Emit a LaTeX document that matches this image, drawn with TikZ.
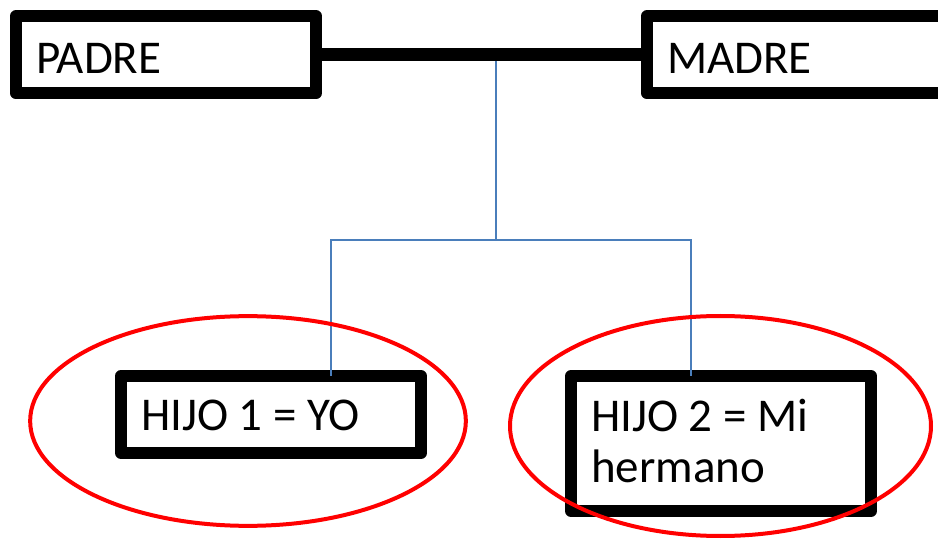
\documentclass[tikz,border=0pt]{standalone}
\usepackage{fontspec}
\setmainfont{Carlito}
\usetikzlibrary{shapes.geometric,calc}
\definecolor{linkblue}{HTML}{4A7EBB}
\newcommand{\boxtext}[1]{\makebox[260pt][l]{#1}}
\begin{document}
\begin{tikzpicture}[x=1pt,y=-1pt,
  famebox/.style={draw=black, fill=white, line width=12pt, line join=round,
    minimum width=300pt, inner xsep=20pt, inner ysep=0pt, outer sep=0pt,
    minimum height=77pt},
  parentfont/.style={font=\fontsize{47pt}{51pt}\selectfont},
  childfont/.style={font=\fontsize{47pt}{51pt}\selectfont},
  bond/.style={draw=black, line width=13pt},
  link/.style={draw=linkblue, line width=2pt},
  ring/.style={draw=red, line width=4pt, ellipse, inner sep=0pt, outer sep=0pt}
]
\useasboundingbox (0,0) rectangle (938,540);
\fill[white] (0,0) rectangle (938,540);

% parents
\node[famebox, parentfont, text height=39pt, text depth=0.5pt] (padre) at (166,54.75) {\boxtext{PADRE}};
\node[famebox, parentfont, text height=39pt, text depth=0.5pt] (madre) at (797,54.75) {\boxtext{MADRE}};
\draw[bond] (padre.east) -- (madre.west);

% children
\coordinate (fork) at (496,240);
\coordinate (couple) at ($(fork |- padre.east)+(0,6.5)$);
\node[famebox, childfont, text height=32pt, text depth=0pt] (hijo1) at (271,414.5) {\boxtext{HIJO 1 = YO}};
\node[famebox, childfont, minimum height=135pt, text height=30pt, text depth=53.6pt] (hijo2) at (721,443.5)
  {\boxtext{\begin{tabular}[t]{@{}l@{}}HIJO 2 = Mi\\hermano\end{tabular}}};

% links
\draw[link] (couple) -- (fork);
\draw[link] ([xshift=60pt]hijo1.north) |- (fork) -| ([xshift=-30pt]hijo2.north);

% rings
\node[ring, minimum width=435.7pt, minimum height=209.7pt] (ring1) at (248,421) {};
\node[ring, minimum width=421pt, minimum height=220pt] (ring2) at (720.5,426) {};
\end{tikzpicture}
\end{document}
